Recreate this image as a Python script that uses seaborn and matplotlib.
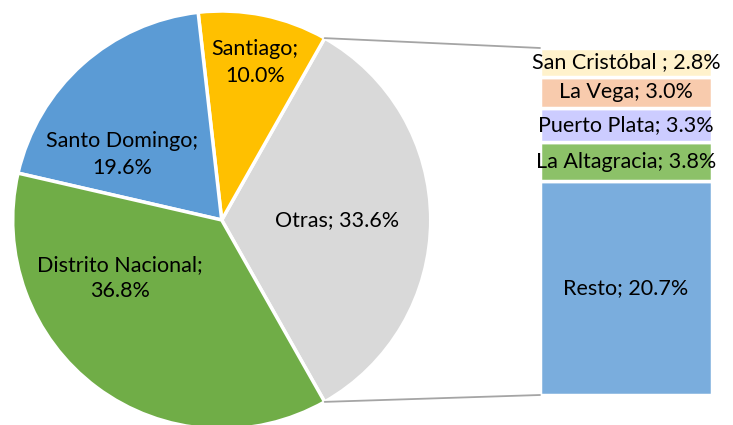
import numpy as np
import matplotlib
matplotlib.use('Agg')
import matplotlib.pyplot as plt
from matplotlib.patches import ConnectionPatch
import seaborn as sns

# pie data (counterclockwise, starting with Otras on the right)
pie_names = ['Otras', 'Santiago', 'Santo Domingo', 'Distrito Nacional']
pie_vals = [33.6, 10.0, 19.6, 36.8]
pie_colors = ['#D9D9D9', '#FFC000', '#5B9BD5', '#70AD47']

# bar breakdown of "Otras" (bottom to top)
bar_names = ['Resto', 'La Altagracia', 'Puerto Plata', 'La Vega', 'San Cristóbal ']
bar_vals = [20.7, 3.8, 3.3, 3.0, 2.8]
bar_colors = ['#7AADDD', '#8CC168', '#CCCCFF', '#F8CBAD', '#FFF2CC']

# label placement in the pie (radius fraction, angle deg)
lbl_pos = [(0.55, 0.0), (0.77, 78.0), (0.57, 146.7), (0.56, 209.6)]

sns.set_theme(style='white')
plt.rcParams['font.family'] = ['Lato', 'DejaVu Sans']
FS = 15.5

W, H = 733, 425
fig = plt.figure(figsize=(W / 100, H / 100), dpi=100)

# pie axes spans the whole figure, mapped so 1 unit = 209 px
cx, cy, R = 221.7, 220.0, 209.0
ax = fig.add_axes([0, 0, 1, 1])
start = -pie_vals[0] * 3.6 / 2
wedges, _ = ax.pie(pie_vals, colors=pie_colors, startangle=start, counterclock=True,
                   wedgeprops=dict(edgecolor='white', linewidth=2.5))
ax.set_xlim(-cx / R, (W - cx) / R)
ax.set_ylim(-(H - cy) / R, cy / R)
ax.set_aspect('equal')
ax.axis('off')

labels = [f'{pie_names[0]}; {pie_vals[0]:.1f}%'] + \
         [f'{n};\n{v:.1f}%' for n, v in zip(pie_names[1:], pie_vals[1:])]
for (r, a), t in zip(lbl_pos, labels):
    ax.text(r * np.cos(np.radians(a)), r * np.sin(np.radians(a)), t, ha='center', va='center',
            fontsize=FS, color='black', linespacing=1.4)

# stacked bar
bx0, bx1, by0, by1 = 540, 712, 395, 48
bax = fig.add_axes([bx0 / W, (H - by0) / H, (bx1 - bx0) / W, (by0 - by1) / H])
bottoms = np.concatenate([[0], np.cumsum(bar_vals)[:-1]])
bax.bar([0] * len(bar_vals), bar_vals, bottom=bottoms, width=1.0, color=bar_colors,
        edgecolor='white', linewidth=2.5)
for n, v, b in zip(bar_names, bar_vals, bottoms):
    bax.text(0, b + v / 2, f'{n}; {v:.1f}%', ha='center', va='center', fontsize=FS, color='black')
bax.set_xlim(-0.5, 0.5)
bax.set_ylim(0, sum(bar_vals))
bax.axis('off')

# connector lines
for ang, yb in [(start + pie_vals[0] * 3.6, sum(bar_vals)), (start, 0)]:
    p = (np.cos(np.radians(ang)), np.sin(np.radians(ang)))
    con = ConnectionPatch(xyA=p, coordsA=ax.transData, xyB=(-0.5, yb), coordsB=bax.transData,
                          color='#A5A5A5', linewidth=1.3)
    fig.add_artist(con)

fig.savefig('out.png', dpi=100)
